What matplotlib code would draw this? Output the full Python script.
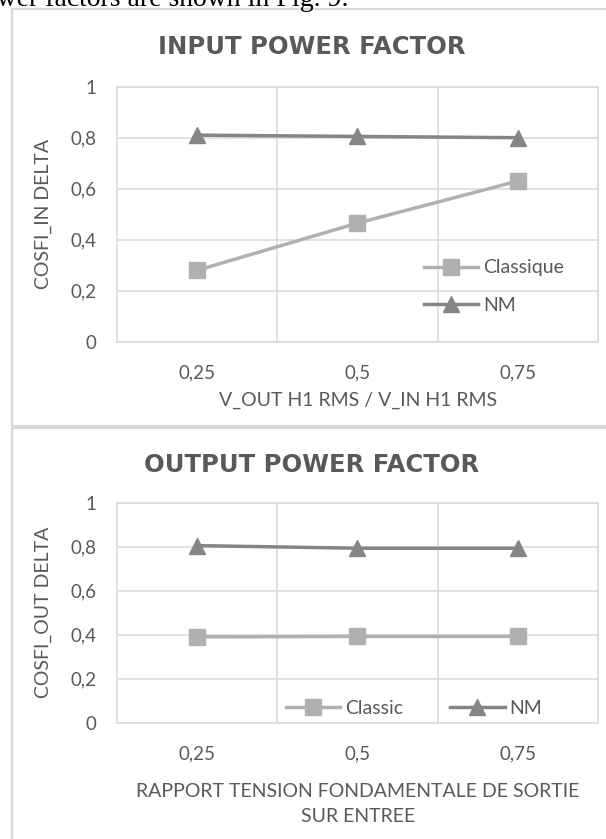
import matplotlib
matplotlib.use("Agg")
import matplotlib.pyplot as plt
from matplotlib.patches import Rectangle

# ── Data ──────────────────────────────────────────────────────────────────────
ratios = ["0,25", "0,5", "0,75"]
in_classique = [0.28, 0.465, 0.63]
in_nm = [0.81, 0.805, 0.80]
out_classic = [0.39, 0.392, 0.392]
out_nm = [0.805, 0.793, 0.793]
y_ticks = [0, 0.2, 0.4, 0.6, 0.8, 1]
y_tick_labels = ["0", "0,2", "0,4", "0,6", "0,8", "1"]

# ── Style ─────────────────────────────────────────────────────────────────────
plt.rcParams["font.family"] = ["Lato", "DejaVu Sans"]
TXT = "#595959"
GRID = "#d9d9d9"
C_LIGHT = "#b0b0b0"
C_DARK = "#858585"

W, H = 606, 839


def fx(px):
    return px / W


def fy(py):
    return 1 - py / H


def style_axes(ax):
    x = range(len(ratios))
    ax.set_xlim(-0.5, len(ratios) - 0.5)
    ax.set_ylim(0, 1)
    ax.set_xticks(list(x))
    ax.set_xticklabels(ratios)
    ax.set_xticks([i + 0.5 for i in range(len(ratios) - 1)], minor=True)
    ax.set_yticks(y_ticks)
    ax.set_yticklabels(y_tick_labels)
    ax.grid(axis="y", which="major", color=GRID, lw=1.1)
    ax.grid(axis="x", which="minor", color=GRID, lw=1.1)
    ax.tick_params(which="both", length=0)
    ax.tick_params(axis="y", pad=15, labelsize=13.5, labelcolor=TXT)
    ax.tick_params(axis="x", pad=16, labelsize=13.5, labelcolor=TXT)
    for s in ax.spines.values():
        s.set_color(GRID)
        s.set_linewidth(1.1)
    ax.set_axisbelow(True)


fig = plt.figure(figsize=(W / 100, H / 100), dpi=100)

# page text cut at the top (as in the reference crop)
fig.text(fx(-31), fy(6), "power factors are shown in Fig. 9.", fontsize=20,
         family="Liberation Serif", color="black", ha="left", va="baseline")

# chart frames
fig.add_artist(Rectangle((fx(12), fy(426)), fx(620) - fx(12), fy(9) - fy(426),
                         transform=fig.transFigure, fill=False, ec=GRID, lw=1.6))
fig.add_artist(Rectangle((fx(12), fy(860)), fx(620) - fx(12), fy(428) - fy(860),
                         transform=fig.transFigure, fill=False, ec=GRID, lw=1.6))

# ── Top chart ─────────────────────────────────────────────────────────────────
ax1 = fig.add_axes([fx(117), fy(341.7), fx(598) - fx(117), fy(86.7) - fy(341.7)])
style_axes(ax1)
xs = list(range(len(ratios)))
ax1.plot(xs, in_classique, color=C_LIGHT, lw=2.5, marker="s", ms=12, label="Classique")
ax1.plot(xs, in_nm, color=C_DARK, lw=2.5, marker="^", ms=12, label="NM")
ax1.legend(loc="center left", bbox_to_anchor=(fx(424), fy(286.7)),
           bbox_transform=fig.transFigure, frameon=False, fontsize=14,
           handlelength=2.8, handletextpad=0.25, labelspacing=1.05,
           borderpad=0, borderaxespad=0, labelcolor=TXT)

fig.text(fx(312), fy(47), "INPUT POWER FACTOR", family="DejaVu Sans",
         fontsize=17.5, fontweight="bold", color=TXT, ha="center", va="center")
fig.text(fx(43), fy(214), "COSFI_IN DELTA", fontsize=14, color=TXT,
         rotation=90, ha="center", va="center")
fig.text(fx(358), fy(400), "V_OUT H1 RMS / V_IN H1 RMS", fontsize=14,
         color=TXT, ha="center", va="center")

# ── Bottom chart ──────────────────────────────────────────────────────────────
ax2 = fig.add_axes([fx(117), fy(722.7), fx(598) - fx(117), fy(502.7) - fy(722.7)])
style_axes(ax2)
ax2.plot(xs, out_classic, color=C_LIGHT, lw=2.5, marker="s", ms=12, label="Classic")
ax2.plot(xs, out_nm, color=C_DARK, lw=2.5, marker="^", ms=12, label="NM")
ax2.legend(loc="center left", bbox_to_anchor=(fx(286), fy(708)),
           bbox_transform=fig.transFigure, frameon=False, fontsize=14, ncol=2,
           handlelength=2.8, handletextpad=0.25, columnspacing=2.4,
           borderpad=0, borderaxespad=0, labelcolor=TXT)

fig.text(fx(312), fy(465), "OUTPUT POWER FACTOR", family="DejaVu Sans",
         fontsize=17.5, fontweight="bold", color=TXT, ha="center", va="center")
fig.text(fx(43), fy(612.7), "COSFI_OUT DELTA", fontsize=14, color=TXT,
         rotation=90, ha="center", va="center")
fig.text(fx(358), fy(804), "RAPPORT TENSION FONDAMENTALE DE SORTIE\nSUR ENTREE",
         fontsize=14, color=TXT, ha="center", va="center", linespacing=1.6)

fig.savefig("out.png", dpi=100)
